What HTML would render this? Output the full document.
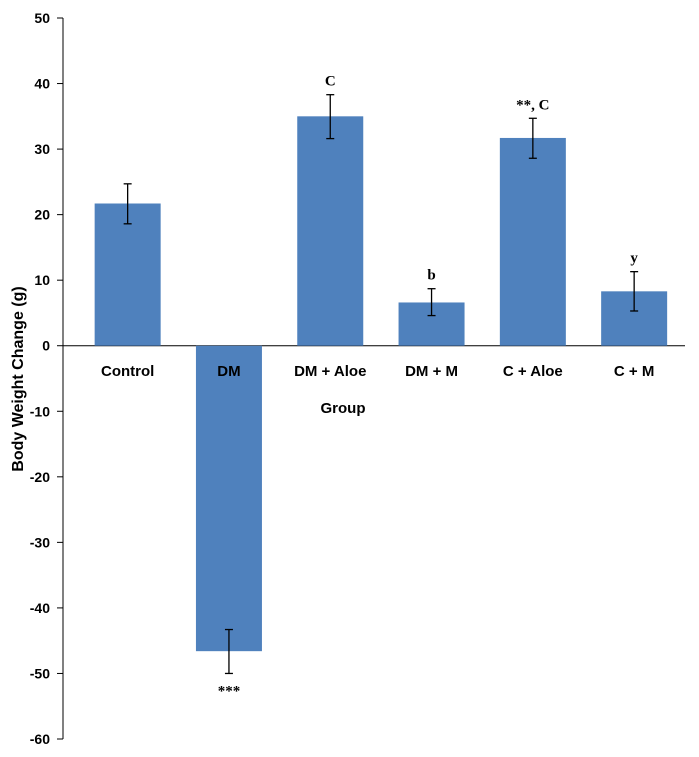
<!DOCTYPE html>
<html><head><meta charset="utf-8"><style>
body{margin:0;background:#fff}
svg{display:block}
text{font-family:"Liberation Sans",Arial,sans-serif}
text.serif{font-family:"Liberation Serif","Times New Roman",serif}
</style></head><body>
<svg id="chart" width="699" height="757">
<g id="axes"></g><g id="bars"></g>
</svg>
<script>
const categories=["Control","DM","DM + Aloe","DM + M","C + Aloe","C + M"];
const values=[21.7,-46.6,35,6.6,31.7,8.3];
const errLow=[18.6,-50,31.6,4.6,28.6,5.3];
const errHigh=[24.7,-43.3,38.3,8.7,34.7,11.3];
const annotations=["","***","C","b","**, C","y"];
const yTicks=[50,40,30,20,10,0,-10,-20,-30,-40,-50,-60];
const NS="http://www.w3.org/2000/svg";
const x0=63,x1=685,yTop=18,yBot=739,yMin=-60,yMax=50;
const y=v=>yTop+(yMax-v)/(yMax-yMin)*(yBot-yTop);
const catStart=77,bw=101.3;
const xc=i=>catStart+bw*(i+0.5);
function mk(tag,at,parent,txt){const e=document.createElementNS(NS,tag);for(const k in at)e.setAttribute(k,at[k]);if(txt!==undefined)e.textContent=txt;parent.appendChild(e);return e;}
const ax=document.getElementById('axes'),bg=document.getElementById('bars');
let e=mk('line',{x1:x0,x2:x0,y1:yTop,y2:yBot,stroke:'#000','stroke-width':1},ax);


yTicks.forEach(t=>{
 let l=mk('line',{x1:x0-6,x2:x0,y1:y(t),y2:y(t),stroke:'#000'},ax);
 
 
 let tx=mk('text',{x:50,y:y(t)+5,'text-anchor':'end','font-size':14,'font-weight':'bold'},ax,String(t));
 
 
});
values.forEach((v,i)=>{
 const cx=xc(i),w=66;
 let r=mk('rect',{x:cx-w/2,y:Math.min(y(v),y(0)),width:w,height:Math.abs(y(v)-y(0)),fill:'#4f81bd'},bg);
 
 
 const g=mk('g',{stroke:'#000','stroke-width':1.3},bg);
 
 
 mk('line',{x1:cx,x2:cx,y1:y(errLow[i]),y2:y(errHigh[i])},g);
 mk('line',{x1:cx-4,x2:cx+4,y1:y(errLow[i]),y2:y(errLow[i])},g);
 mk('line',{x1:cx-4,x2:cx+4,y1:y(errHigh[i]),y2:y(errHigh[i])},g);
 if(annotations[i]){
  const ay=v<0?y(errLow[i])+22:y(errHigh[i])-9;
  let a=mk('text',{x:cx,y:ay,'text-anchor':'middle','font-size':15,'font-weight':'bold','class':'serif'},bg,annotations[i]);
  
  
 }
});
let xl=mk('line',{x1:x0,x2:x1,y1:y(0),y2:y(0),stroke:'#000'},ax);


categories.forEach((c,i)=>{
 let t=mk('text',{x:xc(i),y:376,'text-anchor':'middle','font-size':15,'font-weight':'bold'},bg,c);
 
 
});
let xt=mk('text',{x:343,y:413,'text-anchor':'middle','font-size':15,'font-weight':'bold'},ax,'Group');


let yt=mk('text',{x:0,y:0,transform:'translate(23,379) rotate(-90)','text-anchor':'middle','font-size':16,'font-weight':'bold'},ax,'Body Weight Change (g)');


</script>
</body></html>
